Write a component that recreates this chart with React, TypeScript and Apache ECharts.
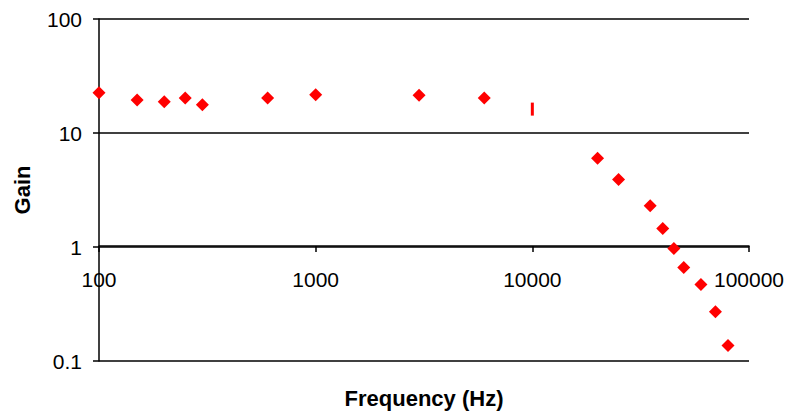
import React, { useEffect, useRef } from "react";
import * as echarts from "echarts";

const frequencies = [100, 150, 200, 250, 300, 600, 1000, 3000, 6000, 20000, 25000, 35000, 40000, 45000, 50000, 60000, 70000, 80000];
const gains = [22.5, 19.5, 18.8, 20.3, 17.7, 20.3, 21.6, 21.4, 20.3, 6.0, 3.9, 2.3, 1.45, 0.97, 0.66, 0.47, 0.27, 0.137];
const barFrequencies = [10000];
const barGains = [16.2];
const xTicks = [100, 1000, 10000, 100000];
const yTicks = [0.1, 1, 10, 100];

export default function App() {
  const ref = useRef<HTMLDivElement>(null);
  useEffect(() => {
    if (!ref.current) return;
    const chart = echarts.init(ref.current, null, { renderer: "svg" });
    const font = "Liberation Sans, Arial, sans-serif";
    chart.setOption({
      animation: false,
      backgroundColor: "#ffffff",
      grid: {
        left: 99,
        top: 19,
        width: 650,
        height: 342,
        containLabel: false,
        outerBoundsMode: "none",
      },
      xAxis: {
        type: "log",
        logBase: 10,
        min: xTicks[0],
        max: xTicks[xTicks.length - 1],
        offset: -115,
        name: "Frequency (Hz)",
        nameLocation: "middle",
        nameGap: 141,
        nameTextStyle: { fontFamily: font, fontSize: 22, fontWeight: "bold", color: "#000" },
        axisLine: { show: true, lineStyle: { color: "#000", width: 1.5 } },
        axisTick: { show: true, inside: false, length: 6, lineStyle: { color: "#000", width: 1.5 } },
        axisLabel: {
          margin: 23,
          fontFamily: font,
          fontSize: 21,
          color: "#000",
          formatter: (v: number) => String(Math.round(v)),
        },
        splitLine: { show: false },
      },
      yAxis: {
        type: "log",
        logBase: 10,
        min: yTicks[0],
        max: yTicks[yTicks.length - 1],
        name: "Gain",
        nameLocation: "middle",
        nameRotate: 90,
        nameGap: 66,
        nameTextStyle: { fontFamily: font, fontSize: 22, fontWeight: "bold", color: "#000" },
        axisLine: { show: true, lineStyle: { color: "#000", width: 1.5 } },
        axisTick: { show: true, inside: false, length: 6, lineStyle: { color: "#000", width: 1.5 } },
        axisLabel: {
          margin: 17,
          fontFamily: font,
          fontSize: 21,
          color: "#000",
          formatter: (v: number) => (v < 1 ? String(Number(v.toFixed(1))) : String(Math.round(v))),
        },
        splitLine: { show: true, lineStyle: { color: "#000", width: 1.5 } },
      },
      series: [
        {
          type: "scatter",
          data: frequencies.map((f, i) => [f, gains[i]]),
          symbol: "diamond",
          symbolSize: [13, 13],
          itemStyle: { color: "#ff0000", opacity: 1 },
        },
        {
          type: "scatter",
          data: barFrequencies.map((f, i) => [f, barGains[i]]),
          symbol: "rect",
          symbolSize: [3, 13],
          itemStyle: { color: "#ff0000", opacity: 1 },
        },
      ],
    });
    return () => chart.dispose();
  }, []);
  return (
    <div
      ref={ref}
      style={{ position: "absolute", left: 0, top: 0, width: 788, height: 412 }}
    />
  );
}
